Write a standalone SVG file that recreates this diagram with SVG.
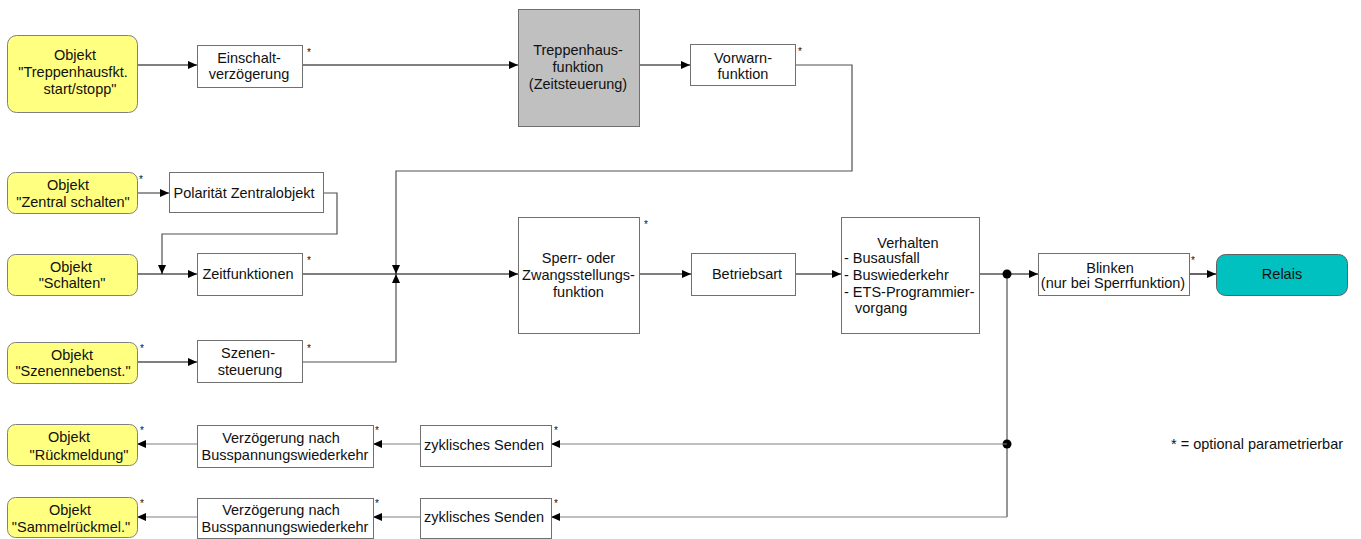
<svg xmlns="http://www.w3.org/2000/svg" width="1361" height="539" viewBox="0 0 1361 539">
<style>
text{font-family:"Liberation Sans",Arial,sans-serif;font-size:14.5px;fill:#111}
.m{text-anchor:middle}
.st{font-size:10px}
.box{fill:#fff;stroke:#707070;stroke-width:1}
.obj{fill:#ffff80;stroke:#808080;stroke-width:1}
.gray{fill:#c0c0c0;stroke:#707070;stroke-width:1}
.rel{fill:#00c0c0;stroke:#606060;stroke-width:1}
.c{fill:none;stroke:#000;stroke-width:1.2}
.g{fill:none;stroke:#505050;stroke-width:1.2}
.l{fill:none;stroke:#808080;stroke-width:1.2}
</style>
<defs>
<marker id="ah" markerWidth="9" markerHeight="8" refX="9" refY="4" orient="auto" markerUnits="userSpaceOnUse">
<path d="M0,0 L9,4 L0,8 Z" fill="#000"/>
</marker>
</defs>
<rect width="1361" height="539" fill="#fff"/>
<g id="connectors">
<line class="c" x1="137" y1="65" x2="197" y2="65" marker-end="url(#ah)"/>
<line class="c" x1="302" y1="65" x2="518" y2="65" marker-end="url(#ah)"/>
<line class="c" x1="640" y1="65" x2="690" y2="65" marker-end="url(#ah)"/>
<polyline class="g" points="795,65 852,65 852,171 396,171 396,274" marker-end="url(#ah)"/>
<line class="g" x1="137" y1="193" x2="169" y2="193" marker-end="url(#ah)"/>
<polyline class="g" points="323,193 337,193 337,234 162,234 162,274" marker-end="url(#ah)"/>
<line class="c" x1="137" y1="274" x2="197" y2="274" marker-end="url(#ah)"/>
<line class="c" x1="302" y1="274" x2="518" y2="274" marker-end="url(#ah)"/>
<line class="c" x1="137" y1="362" x2="197" y2="362" marker-end="url(#ah)"/>
<polyline class="g" points="302,362 396,362 396,274" marker-end="url(#ah)"/>
<line class="c" x1="639" y1="274" x2="691" y2="274" marker-end="url(#ah)"/>
<line class="c" x1="795" y1="274" x2="841" y2="274" marker-end="url(#ah)"/>
<line class="c" x1="979" y1="274" x2="1038" y2="274" marker-end="url(#ah)"/>
<line class="c" x1="1189" y1="274" x2="1216" y2="274" marker-end="url(#ah)"/>
<polyline class="g" points="1007,274 1007,517"/>
<circle cx="1007" cy="274" r="4.5" fill="#000"/>
<circle cx="1007" cy="444" r="4.5" fill="#000"/>
<line class="l" x1="1007" y1="444" x2="551" y2="444" marker-end="url(#ah)"/>
<line class="l" x1="420" y1="444" x2="373" y2="444" marker-end="url(#ah)"/>
<line class="l" x1="197" y1="444" x2="137" y2="444" marker-end="url(#ah)"/>
<line class="l" x1="1007" y1="517" x2="551" y2="517" marker-end="url(#ah)"/>
<line class="l" x1="420" y1="517" x2="373" y2="517" marker-end="url(#ah)"/>
<line class="l" x1="197" y1="517" x2="137" y2="517" marker-end="url(#ah)"/>
</g>
<g id="obj_treppen">
<rect class="obj" x="7.5" y="35.5" width="130" height="77" rx="9"/>
<text class="m" x="75" y="60">Objekt</text>
<text class="m" x="73" y="77">"Treppenhausfkt.</text>
<text class="m" x="80" y="94">start/stopp"</text>
</g>
<g id="einschalt">
<rect class="box" x="197.5" y="45.5" width="105" height="42"/>
<text class="m" x="249" y="63">Einschalt-</text>
<text class="m" x="249" y="79">verzögerung</text>
<text class="st" x="307" y="56">*</text>
</g>
<g id="treppenhaus">
<rect class="gray" x="518.5" y="9.5" width="121" height="117"/>
<text class="m" x="578" y="54.5">Treppenhaus-</text>
<text class="m" x="578" y="71.5">funktion</text>
<text class="m" x="578" y="88.5">(Zeitsteuerung)</text>
</g>
<g id="vorwarn">
<rect class="box" x="690.5" y="44.5" width="105" height="41"/>
<text class="m" x="743" y="63">Vorwarn-</text>
<text class="m" x="743" y="79">funktion</text>
<text class="st" x="798" y="55">*</text>
</g>
<g id="obj_zentral">
<rect class="obj" x="7.5" y="172.5" width="130" height="41" rx="8"/>
<text class="m" x="68" y="190">Objekt</text>
<text class="m" x="73" y="207">"Zentral schalten"</text>
<text class="st" x="139" y="183">*</text>
</g>
<g id="polaritaet">
<rect class="box" x="169.5" y="172.5" width="154" height="40"/>
<text class="m" x="244" y="197.5">Polarität Zentralobjekt</text>
</g>
<g id="obj_schalten">
<rect class="obj" x="7.5" y="254.5" width="130" height="41" rx="8"/>
<text class="m" x="71" y="272">Objekt</text>
<text class="m" x="72" y="288">"Schalten"</text>
</g>
<g id="zeitfunktionen">
<rect class="box" x="197.5" y="253.5" width="105" height="42"/>
<text class="m" x="248" y="279">Zeitfunktionen</text>
<text class="st" x="307" y="264">*</text>
</g>
<g id="obj_szenen">
<rect class="obj" x="7.5" y="342.5" width="130" height="41" rx="8"/>
<text class="m" x="72" y="360">Objekt</text>
<text class="m" x="73" y="376">"Szenennebenst."</text>
<text class="st" x="140" y="352">*</text>
</g>
<g id="szenen">
<rect class="box" x="197.5" y="340.5" width="105" height="42"/>
<text class="m" x="248" y="358">Szenen-</text>
<text class="m" x="250" y="375">steuerung</text>
<text class="st" x="307" y="352">*</text>
</g>
<g id="sperr">
<rect class="box" x="518.5" y="217.5" width="121" height="116"/>
<text class="m" x="578.5" y="263">Sperr- oder</text>
<text class="m" x="578.5" y="280">Zwangsstellungs-</text>
<text class="m" x="578.5" y="296.5">funktion</text>
<text class="st" x="644" y="228">*</text>
</g>
<g id="betriebsart">
<rect class="box" x="691.5" y="253.5" width="104" height="42"/>
<text class="m" x="747" y="279">Betriebsart</text>
</g>
<g id="verhalten">
<rect class="box" x="841.5" y="217.5" width="138" height="116"/>
<text class="m" x="908" y="247.5">Verhalten</text>
<text x="844" y="263">- Busausfall</text>
<text x="844" y="279.5">- Buswiederkehr</text>
<text x="844" y="296.5">- ETS-Programmier-</text>
<text x="855" y="313">vorgang</text>
</g>
<g id="blinken">
<rect class="box" x="1038.5" y="253.5" width="151" height="42"/>
<text class="m" x="1110" y="273">Blinken</text>
<text class="m" x="1113" y="288">(nur bei Sperrfunktion)</text>
<text class="st" x="1191" y="264">*</text>
</g>
<g id="relais">
<rect class="rel" x="1216.5" y="254.5" width="131" height="41" rx="9"/>
<text class="m" x="1282" y="279">Relais</text>
</g>
<g id="obj_rueck">
<rect class="obj" x="7.5" y="424.5" width="130" height="41" rx="8"/>
<text class="m" x="69" y="442">Objekt</text>
<text class="m" x="79" y="460">"Rückmeldung"</text>
<text class="st" x="140" y="434">*</text>
</g>
<g id="verz1">
<rect class="box" x="197.5" y="425.5" width="176" height="42"/>
<text class="m" x="281" y="443">Verzögerung nach</text>
<text class="m" x="285" y="460">Busspannungswiederkehr</text>
<text class="st" x="375" y="434">*</text>
</g>
<g id="zykl1">
<rect class="box" x="420.5" y="425.5" width="131" height="41"/>
<text class="m" x="484" y="450">zyklisches Senden</text>
<text class="st" x="554" y="434">*</text>
</g>
<g id="obj_sammel">
<rect class="obj" x="7.5" y="497.5" width="130" height="40" rx="8"/>
<text class="m" x="70" y="515">Objekt</text>
<text class="m" x="71" y="532">"Sammelrückmel."</text>
<text class="st" x="140" y="507">*</text>
</g>
<g id="verz2">
<rect class="box" x="197.5" y="498.5" width="176" height="40"/>
<text class="m" x="281" y="515">Verzögerung nach</text>
<text class="m" x="285" y="532">Busspannungswiederkehr</text>
<text class="st" x="375" y="507">*</text>
</g>
<g id="zykl2">
<rect class="box" x="420.5" y="498.5" width="131" height="40"/>
<text class="m" x="484" y="522">zyklisches Senden</text>
<text class="st" x="554" y="507">*</text>
</g>
<g id="legend">
<text x="1171" y="449">* = optional parametrierbar</text>
</g>
</svg>
